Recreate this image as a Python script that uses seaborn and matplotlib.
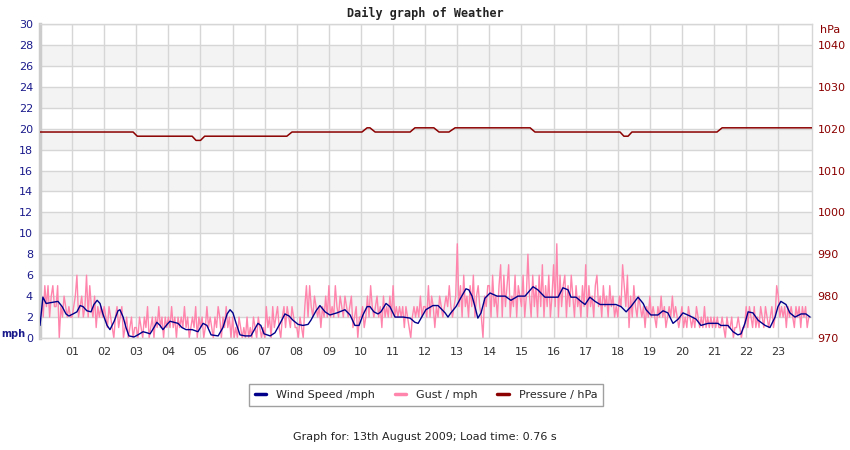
import numpy as np
import pandas as pd
import seaborn as sns
import matplotlib.pyplot as plt
from matplotlib.lines import Line2D

sns.set_style("white")
plt.rcParams["font.family"] = ["DejaVu Sans"]

# wind speed at its turning points (hour of day, mph)
wind_hour = [0.00, 0.09, 0.19, 0.37, 0.56, 0.69, 0.81, 0.90, 1.03, 1.15, 1.25, 1.34,
             1.46, 1.59, 1.68, 1.78, 1.87, 1.96, 2.09, 2.18, 2.31, 2.43, 2.49, 2.59,
             2.68, 2.77, 2.93, 3.05, 3.21, 3.33, 3.43, 3.55, 3.64, 3.74, 3.83, 3.96,
             4.05, 4.17, 4.30, 4.42, 4.55, 4.74, 4.92, 5.08, 5.20, 5.33, 5.55, 5.70,
             5.83, 5.92, 6.01, 6.11, 6.23, 6.39, 6.57, 6.70, 6.79, 6.88, 6.98, 7.17,
             7.32, 7.48, 7.63, 7.76, 7.88, 8.04, 8.19, 8.35, 8.44, 8.60, 8.72, 8.88,
             9.03, 9.25, 9.50, 9.66, 9.81, 9.94, 10.06, 10.19, 10.28, 10.40, 10.53, 10.62,
             10.78, 10.90, 11.06, 11.31, 11.53, 11.68, 11.78, 12.02, 12.24, 12.40, 12.62, 12.71,
             12.80, 12.96, 13.12, 13.27, 13.36, 13.46, 13.55, 13.64, 13.74, 13.86, 14.02, 14.24,
             14.49, 14.67, 14.89, 15.11, 15.36, 15.51, 15.73, 16.14, 16.29, 16.45, 16.54, 16.70,
             16.85, 16.98, 17.13, 17.29, 17.45, 17.94, 18.10, 18.26, 18.41, 18.63, 18.79, 18.88,
             19.03, 19.25, 19.41, 19.56, 19.72, 19.88, 20.03, 20.25, 20.44, 20.59, 20.81, 21.12,
             21.21, 21.43, 21.59, 21.74, 21.84, 21.96, 22.06, 22.21, 22.37, 22.59, 22.74, 22.90,
             22.99, 23.08, 23.24, 23.36, 23.52, 23.71, 23.86, 23.99]
wind_mph = [1.2, 3.9, 3.3, 3.4, 3.5, 3.0, 2.3, 2.1, 2.3, 2.5, 3.1, 3.0,
            2.6, 2.5, 3.2, 3.6, 3.3, 2.3, 1.2, 0.8, 1.6, 2.6, 2.7, 2.0,
            1.0, 0.2, 0.1, 0.3, 0.6, 0.5, 0.4, 1.0, 1.5, 1.2, 0.8, 1.3,
            1.6, 1.5, 1.4, 1.0, 0.8, 0.8, 0.6, 1.4, 1.2, 0.3, 0.2, 1.0,
            2.3, 2.7, 2.4, 1.4, 0.3, 0.2, 0.2, 0.9, 1.4, 1.2, 0.4, 0.2,
            0.5, 1.4, 2.3, 2.1, 1.7, 1.3, 1.2, 1.3, 1.7, 2.6, 3.1, 2.5,
            2.2, 2.4, 2.7, 2.2, 1.2, 1.2, 2.2, 3.0, 3.0, 2.5, 2.3, 2.5,
            3.3, 3.0, 2.0, 2.0, 1.9, 1.5, 1.4, 2.7, 3.1, 3.1, 2.4, 2.0,
            2.4, 3.0, 3.9, 4.7, 4.6, 4.0, 3.0, 1.9, 2.4, 3.8, 4.3, 4.0,
            4.0, 3.6, 4.0, 4.0, 4.9, 4.6, 3.9, 3.9, 4.8, 4.6, 3.9, 3.9,
            3.5, 3.2, 3.9, 3.5, 3.2, 3.2, 3.0, 2.5, 3.0, 3.9, 3.3, 2.7,
            2.2, 2.2, 2.6, 2.4, 1.4, 1.8, 2.4, 2.1, 1.8, 1.2, 1.4, 1.4,
            1.2, 1.2, 0.6, 0.3, 0.4, 1.4, 2.5, 2.4, 1.7, 1.2, 1.0, 2.0,
            3.0, 3.5, 3.2, 2.4, 2.0, 2.3, 2.3, 2.0]

# gusts, one value every 3 minutes, one row per hour (mph)
gust_mph = [
    1, 4, 2, 5, 3, 5, 2, 4, 5, 3, 3, 5, 0, 3, 2, 4, 3, 2, 3, 2,
    2, 3, 4, 6, 2, 3, 4, 2, 3, 6, 2, 5, 3, 2, 4, 1, 3, 2, 3, 2,
    3, 2, 1, 3, 2, 1, 0, 2, 3, 1, 2, 3, 0, 1, 2, 0, 1, 2, 0, 1,
    1, 0, 2, 1, 0, 2, 1, 3, 0, 1, 2, 0, 2, 1, 3, 1, 2, 0, 2, 1,
    2, 1, 3, 1, 2, 0, 2, 1, 2, 1, 3, 1, 2, 0, 1, 2, 1, 3, 0, 2,
    1, 2, 0, 1, 3, 1, 2, 1, 0, 2, 1, 3, 2, 0, 2, 1, 3, 1, 2, 0,
    2, 0, 1, 0, 2, 1, 0, 1, 0, 2, 0, 1, 0, 2, 1, 0, 2, 1, 0, 1,
    0, 3, 1, 2, 0, 3, 1, 2, 3, 1, 0, 2, 3, 1, 3, 2, 1, 3, 2, 1,
    1, 0, 2, 1, 0, 3, 5, 2, 5, 3, 2, 4, 3, 2, 3, 1, 3, 2, 4, 2,
    5, 2, 3, 2, 5, 3, 2, 4, 3, 2, 4, 3, 2, 3, 4, 1, 2, 3, 0, 2,
    2, 3, 1, 2, 4, 2, 5, 3, 2, 3, 4, 2, 3, 1, 4, 2, 3, 2, 4, 2,
    5, 2, 3, 2, 3, 2, 3, 1, 3, 2, 1, 0, 2, 3, 2, 3, 2, 4, 2, 3,
    3, 2, 5, 2, 4, 3, 1, 3, 2, 4, 3, 2, 3, 4, 3, 5, 3, 2, 3, 4,
    9, 3, 5, 2, 6, 3, 4, 2, 5, 3, 6, 2, 4, 5, 3, 2, 0, 4, 3, 5,
    5, 2, 6, 3, 4, 2, 5, 7, 2, 6, 3, 5, 7, 2, 4, 3, 6, 2, 5, 4,
    3, 6, 2, 4, 8, 4, 2, 6, 3, 5, 2, 6, 3, 7, 2, 5, 3, 6, 2, 4,
    7, 3, 9, 2, 6, 3, 5, 6, 2, 5, 3, 6, 4, 2, 5, 3, 4, 2, 5, 3,
    7, 2, 5, 3, 4, 2, 5, 6, 3, 4, 2, 5, 3, 4, 2, 5, 3, 4, 2, 3,
    2, 4, 3, 7, 5, 3, 6, 1, 4, 2, 5, 3, 2, 4, 3, 2, 3, 1, 3, 2,
    4, 2, 3, 2, 1, 3, 2, 4, 2, 3, 1, 2, 3, 2, 4, 2, 3, 2, 1, 2,
    3, 1, 2, 1, 3, 2, 1, 2, 1, 3, 2, 1, 2, 1, 3, 1, 2, 1, 2, 1,
    2, 1, 2, 1, 1, 2, 1, 0, 2, 1, 1, 2, 0, 1, 1, 2, 1, 0, 1, 1,
    3, 1, 3, 2, 1, 3, 1, 2, 1, 3, 2, 1, 3, 2, 1, 2, 3, 1, 2, 5,
    4, 2, 3, 2, 3, 1, 3, 2, 3, 2, 1, 3, 2, 3, 1, 3, 2, 3, 1, 2,
]
gust_hour = np.arange(len(gust_mph)) / 20

# pressure, corners of the step line (hour, hPa)
press_hour = [0.00, 2.90, 3.03, 4.74, 4.86, 5.00, 5.13, 7.69, 7.85, 10.03, 10.19, 10.28,
              10.44, 11.53, 11.68, 12.27, 12.43, 12.74, 12.93, 15.27, 15.42, 18.07, 18.19, 18.32,
              18.44, 21.09, 21.25, 24.05]
press_hpa = [1019.2, 1019.2, 1018.2, 1018.2, 1017.2, 1017.2, 1018.2, 1018.2, 1019.2, 1019.2, 1020.2, 1020.2,
             1019.2, 1019.2, 1020.2, 1020.2, 1019.2, 1019.2, 1020.2, 1020.2, 1019.2, 1019.2, 1018.2, 1018.2,
             1019.2, 1019.2, 1020.2, 1020.2]

hour_ticks = list(range(1, 24))
hour_labels = [f"{h:02d}" for h in hour_ticks]
mph_ticks = list(range(0, 31, 2))
hpa_ticks = list(range(970, 1041, 10))

wind_col = "#00008b"
gust_col = "#ff85ad"
press_col = "#8b0000"
grid_col = "#d6d6d6"

fig = plt.figure(figsize=(8.5, 4.5), dpi=100)
ax = fig.add_axes([40 / 850, 112 / 450, 772 / 850, 314 / 450])
ax.set_xlim(0, 24.05)
ax.set_ylim(0, 30)

# alternating bands behind the data
for lo in range(2, 30, 4):
    ax.axhspan(lo, lo + 2, color="#f3f3f3", lw=0, zorder=0)

sns.lineplot(x=gust_hour, y=gust_mph, ax=ax, color=gust_col, lw=1, estimator=None, zorder=2)
sns.lineplot(x=wind_hour, y=wind_mph, ax=ax, color=wind_col, lw=1, estimator=None, zorder=3)

ax.set_xticks(hour_ticks)
ax.set_xticklabels(hour_labels)
ax.set_yticks(mph_ticks)
ax.grid(True, color=grid_col, lw=1, zorder=1)
ax.set_axisbelow(True)
ax.tick_params(axis="x", length=0, labelsize=8, labelcolor="#333333", pad=6.5)
ax.tick_params(axis="y", length=0, labelsize=8, labelcolor="#1a1a8c", pad=5)
ax.set_xlabel("")
ax.set_ylabel("")
for side in ["top", "right", "bottom"]:
    ax.spines[side].set_color(grid_col)
    ax.spines[side].set_linewidth(1)
ax.spines["left"].set_color("#cccccc")
ax.spines["left"].set_linewidth(2.5)

ax2 = ax.twinx()
sns.lineplot(x=press_hour, y=press_hpa, ax=ax2, color=press_col, lw=1.1, estimator=None)
ax2.set_ylim(970, 1045)
ax2.set_yticks(hpa_ticks)
ax2.tick_params(axis="y", length=0, labelsize=8, labelcolor=press_col, pad=4)
ax2.set_ylabel("")
for side in ax2.spines:
    ax2.spines[side].set_visible(False)

fig.text(425 / 850, 1 - 13 / 450, "Daily graph of Weather", ha="center", va="center",
         fontsize=8.5, fontweight="bold", family="DejaVu Sans Mono", color="#222222")
fig.text(1 / 850, 1 - 334 / 450, "mph", ha="left", va="center", fontsize=7,
         fontweight="bold", color="#1a1a8c")
fig.text(820 / 850, 1 - 30 / 450, "hPa", ha="left", va="center", fontsize=8, color=press_col)

handles = [Line2D([], [], color=wind_col, lw=2.5),
           Line2D([], [], color=gust_col, lw=2.5),
           Line2D([], [], color=press_col, lw=2.5)]
labels = ["Wind Speed /mph", "Gust / mph", "Pressure / hPa"]
leg = fig.legend(handles, labels, loc="center", bbox_to_anchor=(426 / 850, 1 - 395 / 450),
                 ncol=3, fontsize=8, frameon=True, fancybox=False, edgecolor="#888888",
                 handlelength=1.0, handletextpad=0.9, columnspacing=1.8, borderpad=0.5)
leg.get_frame().set_linewidth(1)

fig.text(425 / 850, 1 - 437 / 450, "Graph for: 13th August 2009; Load time: 0.76 s",
         ha="center", va="center", fontsize=8, color="#222222")

fig.savefig("out.png", dpi=100)
